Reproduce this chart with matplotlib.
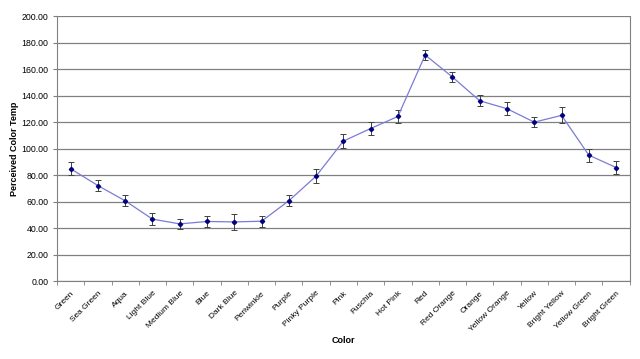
import numpy as np
import matplotlib
matplotlib.use("Agg")
import matplotlib.pyplot as plt
from matplotlib.ticker import FormatStrFormatter, FixedLocator

plt.rcParams['font.family'] = ['Liberation Sans', 'DejaVu Sans']

## colour names and the perceived temp readings
colors = ["Green", "Sea Green", "Aqua", "Light Blue", "Medium Blue", "Blue",
          "Dark Blue", "Periwinkle", "Purple", "Pinky Purple", "Pink", "Fuschia",
          "Hot Pink", "Red", "Red Orange", "Orange", "Yellow Orange", "Yellow",
          "Bright Yellow", "Yellow Green", "Bright Green"]
temps = [85.0, 72.3, 60.8, 47.0, 43.4, 45.2, 44.9, 45.4, 60.8, 79.4, 105.8,
         115.3, 124.4, 170.7, 154.1, 136.2, 130.2, 120.1, 125.2, 95.2, 85.9]
errs = [5, 4, 4, 4.5, 3.5, 4.5, 6, 4, 4, 5, 5, 5, 5, 4, 4, 4, 5, 4, 6, 5, 5]

fig = plt.figure(figsize=(6.4, 3.59), dpi=100)
ax = fig.add_axes([0.089, 0.216, 0.895, 0.739])

x = np.arange(len(colors))
ax.errorbar(x, temps, yerr=errs, fmt='none', ecolor='#404040', elinewidth=0.7,
            capsize=2.5, capthick=0.7, zorder=3)
ax.plot(x, temps, color='#7b7bd6', lw=0.9, marker='D', ms=2.2,
        mfc='#000080', mec='#000080', zorder=4)

ax.set_xlim(-0.5, len(colors) - 0.5)
ax.set_ylim(0, 200)
ax.set_yticks(np.arange(0, 201, 20))
ax.yaxis.set_major_formatter(FormatStrFormatter('%.2f'))
ax.grid(axis='y', color='#808080', lw=0.9)
ax.set_axisbelow(True)

## tick marks between categories, labels at centres
ax.set_xticks(x)
ax.set_xticklabels(colors, rotation=45, ha='right', rotation_mode='anchor', fontsize=6)
ax.tick_params(axis='x', length=0, pad=6)
ax.xaxis.set_minor_locator(FixedLocator(np.arange(-0.5, len(colors), 1)))
ax.tick_params(axis='x', which='minor', length=3, color='#808080')
ax.tick_params(axis='y', labelsize=6.3, length=3, color='#808080', pad=3)

for s in ['left', 'right', 'bottom']:
    ax.spines[s].set_color('#808080')
ax.spines['top'].set_visible(False)

ax.set_xlabel("Color", fontsize=6.5, fontweight='bold', labelpad=2)
ax.set_ylabel("Perceived Color Temp", fontsize=6.5, fontweight='bold', labelpad=2)

fig.savefig("out.png", dpi=100)
